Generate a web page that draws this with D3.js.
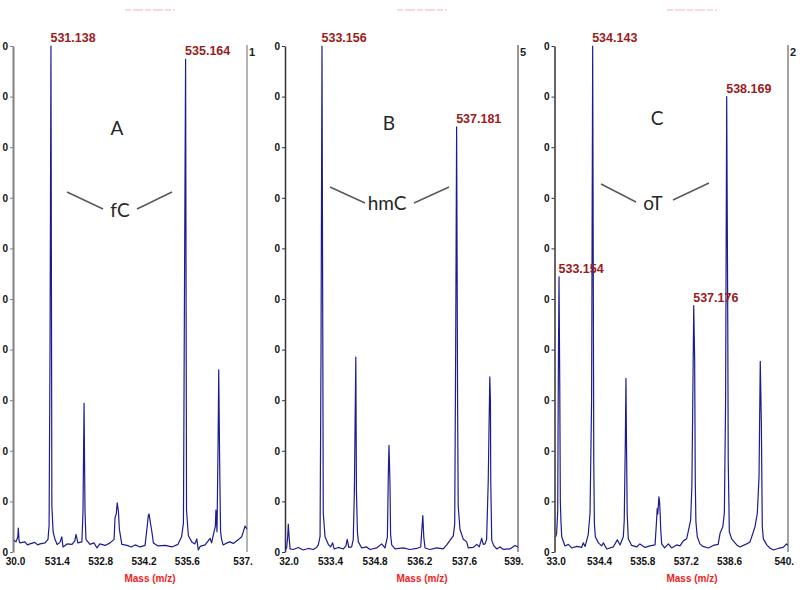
<!DOCTYPE html>
<html><head><meta charset="utf-8">
<script src="https://cdn.jsdelivr.net/npm/d3@7"></script>
<style>body{margin:0;background:#fff}svg{display:block}</style>
</head><body><svg id="c" width="800" height="590"></svg>
<script>
// ---------- DATA ----------
const specA = [[530.00,2.4],[530.08,2.0],[530.14,3.0],[530.155,4.7],[530.18,2.2],[530.21,1.8],[530.37,2.0],[530.45,1.4],[530.53,1.6],[530.69,1.9],[530.78,1.4],[530.86,1.6],[531.02,1.8],[531.115,2.5],[531.15,5.3],[531.18,40],[531.21,100],[531.24,9],[531.28,4],[531.34,2.5],[531.41,1.5],[531.50,1.9],[531.56,3.0],[531.60,1.0],[531.73,1.6],[531.89,1.5],[531.98,2.2],[532.02,3.5],[532.08,1.8],[532.21,2.0],[532.245,8],[532.28,29.4],[532.31,8],[532.34,2.5],[532.47,1.5],[532.60,1.8],[532.70,0.8],[532.79,1.6],[532.96,1.3],[533.12,1.8],[533.25,2.5],[533.28,6.8],[533.32,7.5],[533.35,9.7],[533.39,8.0],[533.42,4.5],[533.50,1.5],[533.67,1.3],[533.80,1.0],[533.93,1.4],[534.09,1.0],[534.25,1.3],[534.30,4],[534.355,7.2],[534.38,7.5],[534.41,6.3],[534.47,4.0],[534.52,1.8],[534.67,1.2],[534.90,1.3],[535.12,1.0],[535.31,1.5],[535.43,3],[535.49,5.7],[535.53,60],[535.56,97.4],[535.59,8.2],[535.65,3.2],[535.76,2.0],[535.86,1.6],[535.92,2.6],[535.97,0.4],[536.03,1.1],[536.19,1.4],[536.35,2.7],[536.40,1.8],[536.46,3.5],[536.52,5],[536.54,8.3],[536.575,4],[536.61,22],[536.63,36],[536.66,17.8],[536.69,4],[536.72,2.6],[536.77,1.4],[536.90,1.8],[536.99,2.0],[537.10,1.7],[537.26,2.4],[537.37,3.0],[537.48,5.1],[537.55,4.5]];
const specB = [[532.00,0.5],[532.04,0.8],[532.075,3],[532.094,5.5],[532.125,2.5],[532.15,0.6],[532.25,0.5],[532.41,0.9],[532.56,0.4],[532.72,0.7],[532.88,0.5],[532.98,0.9],[533.035,1.4],[533.09,3.1],[533.12,40],[533.15,100],[533.19,7.7],[533.245,3.0],[533.35,1.5],[533.42,1.0],[533.485,1.8],[533.53,0.6],[533.66,0.9],[533.82,0.6],[533.90,1.2],[533.94,2.5],[533.99,0.9],[534.08,1.0],[534.13,2.5],[534.165,12],[534.21,38.5],[534.23,12],[534.26,4],[534.29,2.0],[534.395,0.8],[534.55,1.0],[534.655,0.5],[534.865,0.8],[535.02,1.6],[535.125,0.8],[535.20,3],[535.23,15.6],[535.25,21.1],[535.28,14],[535.30,3.5],[535.335,1.4],[535.44,0.6],[535.70,0.8],[535.91,0.5],[536.12,0.7],[536.245,1.0],[536.275,4],[536.31,7.2],[536.34,3],[536.38,0.8],[536.535,0.5],[536.745,0.8],[536.95,0.6],[537.06,1.4],[537.16,2.3],[537.265,3.2],[537.31,5.5],[537.34,40],[537.37,84],[537.40,30],[537.42,9],[537.475,4.5],[537.58,2.5],[537.685,2.0],[537.735,0.8],[537.89,0.9],[538.00,1.5],[538.08,1.0],[538.155,2.7],[538.205,1.5],[538.26,1.6],[538.31,2.5],[538.36,13.8],[538.41,34.6],[538.43,30],[538.44,14],[538.47,2.3],[538.54,1.2],[538.63,0.6],[538.73,1.0],[538.84,0.5],[539.04,0.6],[539.20,1.3],[539.30,1.0]];
const specC = [[533.00,3.0],[533.03,3.7],[533.065,8],[533.085,35],[533.107,54.4],[533.13,34],[533.15,10],[533.17,6],[533.195,3.0],[533.30,1.2],[533.41,1.5],[533.515,0.8],[533.68,1.1],[533.84,0.9],[533.89,1.8],[533.95,1.1],[534.05,3.4],[534.11,7.7],[534.16,30],[534.195,100],[534.23,18],[534.25,5.7],[534.28,3.0],[534.38,1.8],[534.485,1.2],[534.54,1.8],[534.65,0.6],[534.86,1.0],[534.99,2.4],[535.08,1.4],[535.185,3.0],[535.215,6.3],[535.25,22],[535.27,34.3],[535.29,20],[535.31,7.7],[535.345,2.6],[535.455,1.3],[535.615,1.0],[535.72,1.6],[535.885,0.9],[536.045,1.2],[536.21,1.4],[536.26,6.3],[536.28,8.6],[536.30,7.5],[536.335,10.9],[536.355,10],[536.375,7.7],[536.395,4.3],[536.425,1.6],[536.52,0.8],[536.64,1.6],[536.745,0.8],[536.91,1.4],[537.015,1.2],[537.125,2.2],[537.23,2.6],[537.28,4.0],[537.36,6.3],[537.40,13],[537.43,30],[537.46,48.7],[537.49,38],[537.51,14],[537.53,6],[537.575,3.0],[537.66,1.6],[537.76,1.1],[537.93,0.8],[538.09,1.3],[538.25,1.5],[538.31,3.7],[538.40,5],[538.45,7.7],[538.49,30],[538.525,90],[538.56,45],[538.575,18],[538.61,4],[538.685,2.6],[538.85,1.4],[538.955,1.0],[539.17,1.6],[539.28,2.0],[539.44,5],[539.515,7.7],[539.57,14.9],[539.61,37.7],[539.645,25.5],[539.675,5],[539.71,2.6],[539.82,1.4],[539.92,0.8],[540.03,0.4],[540.19,0.7],[540.35,0.9],[540.46,1.6],[540.50,1.3]];

const peakMzA = [531.21, 535.56];
const peakTextA = ["531.138", "535.164"];
const peakMzB = [533.15, 537.37];
const peakTextB = ["533.156", "537.181"];
const peakMzC = [533.107, 534.195, 537.46, 538.525];
const peakTextC = ["533.154", "534.143", "537.176", "538.169"];

const xTicksA = [530.05, 531.4, 532.8, 534.2, 535.6, 537.4];
const xLabelsA = ["30.0", "531.4", "532.8", "534.2", "535.6", "537."];
const xTicksB = [532.1, 533.4, 534.8, 536.2, 537.6, 539.15];
const xLabelsB = ["32.0", "533.4", "534.8", "536.2", "537.6", "539."];
const xTicksC = [533.0, 534.4, 535.8, 537.2, 538.6, 540.37];
const xLabelsC = ["33.0", "534.4", "535.8", "537.2", "538.6", "540."];

const yTicks = [0, 10, 20, 30, 40, 50, 60, 70, 80, 90, 100];
const yTickLabels = ["0", "0", "0", "0", "0", "0", "0", "0", "0", "0", "0"];

const panelLetters = ["A", "B", "C"];
const compounds = ["fC", "hmC", "oT"];
const rightLabels = ["1", "5", "2"];
const xTitle = "Mass (m/z)";
const yTitle = "% Intensity";

// ---------- LAYOUT ----------
const svg = d3.select("#c");
const Y_BOT = 552, Y_TOP = 46;
const y = d3.scaleLinear().domain([0, 100]).range([Y_BOT, Y_TOP]);
const FONT = "'Liberation Sans', Arial, sans-serif";

const panels = [
  {spec: specA, dom: [530, 537.55], r: [13.5, 247.2], axisX: 13, frameX: 247, frameCol: "#808080", axisCol: "#808080", axisW: 2,
   pm: peakMzA, pt: peakTextA, ticks: xTicksA, labels: xLabelsA,
   letter: [117, 135], comp: [120, 217], lines: [[67,192,103,209],[137,209,172,192]], tx: 150, rl: 249, yt: 6},
  {spec: specB, dom: [532, 539.3], r: [285.3, 518.2], axisX: 285, frameX: 518, frameCol: "#555", axisCol: "#333", axisW: 1.5,
   pm: peakMzB, pt: peakTextB, ticks: xTicksB, labels: xLabelsB,
   letter: [389, 130], comp: [387, 210], lines: [[330,187,365,203],[414,203,449,187]], tx: 422, rl: 520, yt: null},
  {spec: specC, dom: [533, 540.506], r: [555.7, 788], axisX: 554.5, frameX: 788, frameCol: "#666", axisCol: "#333", axisW: 1.5,
   pm: peakMzC, pt: peakTextC, ticks: xTicksC, labels: xLabelsC,
   letter: [657, 125], comp: [653, 210], lines: [[601,184,636,202],[673,200,709,183]], tx: 692, rl: 790, yt: 547}
];

const defs = svg.append("defs");

panels.forEach((p, i) => {
  const x = d3.scaleLinear().domain(p.dom).range(p.r);
  const g = svg.append("g");

  // faint cropped title
  g.append("line").attr("x1", p.tx - 25).attr("x2", p.tx + 25).attr("y1", 10).attr("y2", 10)
    .attr("stroke", "#f4b4b4").attr("stroke-width", 1.2).attr("stroke-dasharray", "6,2,10,2");

  // clip for spectrum
  defs.append("clipPath").attr("id", "clip" + i).append("rect")
    .attr("x", p.r[0]).attr("y", 40).attr("width", p.r[1] - p.r[0]).attr("height", Y_BOT - 40 + 1);

  // right frame
  g.append("line").attr("x1", p.frameX).attr("x2", p.frameX).attr("y1", 45).attr("y2", Y_BOT)
    .attr("stroke", p.frameCol).attr("stroke-width", 1.2);
  g.append("text").attr("x", p.rl).attr("y", 56).text(rightLabels[i])
    .attr("font-family", FONT).attr("font-size", 11).attr("font-weight", "bold").attr("fill", "#222");

  // y axis
  const ya = g.append("g").attr("transform", `translate(${p.axisX},0)`)
    .call(d3.axisLeft(y).tickValues(yTicks).tickFormat((d, k) => yTickLabels[k]).tickSize(3).tickSizeOuter(0).tickPadding(2));
  ya.select(".domain").attr("stroke", p.axisCol).attr("stroke-width", p.axisW);
  ya.selectAll(".tick line").attr("stroke", p.axisCol);
  ya.selectAll("text").attr("font-family", FONT).attr("font-size", 10).attr("font-weight", "bold").attr("fill", "#111");

  // faint rotated y title (cropped)
  if (p.yt !== null) {
    defs.append("clipPath").attr("id", "yclip" + i).append("rect")
      .attr("x", p.yt - 2).attr("y", 260).attr("width", 5).attr("height", 80);
    g.append("text").attr("clip-path", `url(#yclip${i})`)
      .attr("transform", `translate(${p.yt + 4},300) rotate(-90)`).attr("text-anchor", "middle")
      .attr("font-family", FONT).attr("font-size", 9).attr("font-style", "italic").attr("font-weight", "bold")
      .attr("fill", "#ff2a2a").attr("opacity", 0.6).text(yTitle);
  }

  // x axis
  const xa = g.append("g").attr("transform", `translate(0,${Y_BOT})`)
    .call(d3.axisBottom(x).tickValues(p.ticks).tickFormat((d, k) => p.labels[k]).tickSize(0).tickPadding(6));
  xa.select(".domain").remove();
  xa.selectAll("text").attr("font-family", FONT).attr("font-size", 10).attr("font-weight", "bold").attr("fill", "#111");

  g.append("text").attr("x", p.tx).attr("y", 582).attr("text-anchor", "middle").text(xTitle)
    .attr("font-family", FONT).attr("font-size", 10).attr("font-weight", "bold").attr("fill", "#ee1c24");

  // spectrum
  const line = d3.line().x(d => x(d[0])).y(d => y(d[1]));
  g.append("path").datum(p.spec).attr("clip-path", `url(#clip${i})`)
    .attr("d", line).attr("fill", "none").attr("stroke", "#1c1c90").attr("stroke-width", 1.2)
    .attr("stroke-linejoin", "round");

  // peak labels
  p.pm.forEach((m, k) => {
    const pt = p.spec.reduce((a, b) => Math.abs(b[0] - m) < Math.abs(a[0] - m) ? b : a);
    g.append("text").attr("x", x(pt[0]) - 0.5).attr("y", y(pt[1]) - 4).text(p.pt[k])
      .attr("font-family", FONT).attr("font-size", 12.5).attr("font-weight", "bold").attr("fill", "#9b1b1b");
  });

  // annotations
  g.append("text").attr("x", p.letter[0]).attr("y", p.letter[1]).attr("text-anchor", "middle").text(panelLetters[i])
    .attr("font-family", "Lato, 'Open Sans', sans-serif").attr("font-size", 19).attr("fill", "#262626");
  g.append("text").attr("x", p.comp[0]).attr("y", p.comp[1]).attr("text-anchor", "middle").text(compounds[i])
    .attr("font-family", "Lato, 'Open Sans', sans-serif").attr("font-size", 19).attr("fill", "#262626");
  p.lines.forEach(l => {
    g.append("line").attr("x1", l[0]).attr("y1", l[1]).attr("x2", l[2]).attr("y2", l[3])
      .attr("stroke", "#595959").attr("stroke-width", 1.5);
  });
});
</script></body></html>
